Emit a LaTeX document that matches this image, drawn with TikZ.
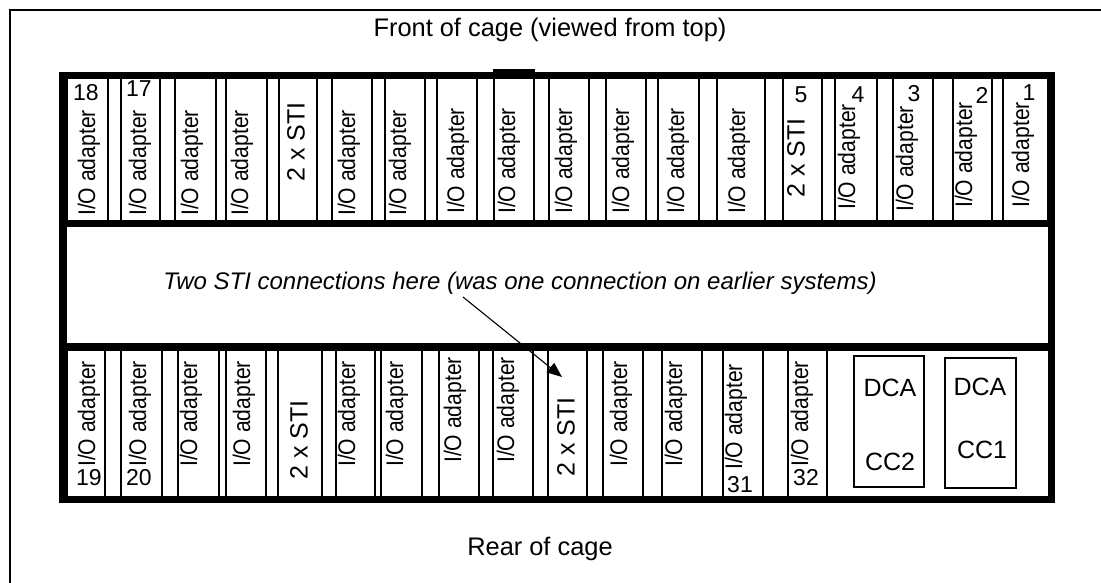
\documentclass[tikz,border=0pt]{standalone}
\usepackage{fontspec}
\setmainfont{Liberation Sans}
\usetikzlibrary{arrows.meta,calc}

% one card slot of the cage: name, left x, right x, top y, bottom y
\newcommand\cageslot[5]{%
  \node[slotbox, minimum width={#3-#2}, minimum height={#5-#4},
        anchor=north west] (#1) at (#2,#4) {};}

\begin{document}
\begin{tikzpicture}[x=1pt, y=-1pt,
  cageframe/.style={line width=7.5pt},
  slotbox/.style={draw, line width=1.8pt, inner sep=0pt, outer sep=0pt},
  cardtext/.style={rotate=90, xscale=0.88, anchor=west, inner sep=0pt,
                   font=\fontsize{24}{28}\selectfont},
  stitext/.style={rotate=90, anchor=west, inner sep=0pt,
                   font=\fontsize{25}{28}\selectfont},
  slotnum/.style={inner sep=0pt, font=\fontsize{23}{26}\selectfont},
  dcabox/.style={draw, line width=1.8pt, inner sep=0pt},
  boxtext/.style={inner sep=0pt, font=\fontsize{25}{28}\selectfont},
  caption/.style={inner sep=0pt, font=\fontsize{25.4}{29}\selectfont},
  pointer/.style={line width=1.1pt, -{Triangle[length=15pt,width=12pt]}},
]
\useasboundingbox (0,0) rectangle (1101,583);

% page frame
\draw[line width=1.4pt] (10,583) -- (10,10) -- (1101,10);

% ---- front row of slots (18 .. 1) ----
\cageslot{s18}{67}{108}{76}{223}
\cageslot{s17}{121}{160}{76}{223}
\cageslot{s16}{175}{216}{76}{223}
\cageslot{s15}{226}{267}{76}{223}
\cageslot{s14}{279}{317}{76}{223}
\cageslot{s13}{332}{372}{76}{223}
\cageslot{s12}{385}{425}{76}{223}
\cageslot{s11}{437}{477}{76}{223}
\cageslot{s10}{494}{534}{76}{223}
\cageslot{s9}{549}{589}{76}{223}
\cageslot{s8}{606}{646}{76}{223}
\cageslot{s7}{658}{699}{76}{223}
\cageslot{s6}{717}{765}{76}{223}
\cageslot{s5}{783}{822}{76}{223}
\cageslot{s4}{835}{877}{76}{223}
\cageslot{s3}{893}{933}{76}{223}
\cageslot{s2}{953}{992}{76}{223}
\cageslot{s1}{1003}{1048}{76}{223}

% ---- rear row of slots (19 .. 32) ----
\cageslot{s19}{67}{105}{347}{499}
\cageslot{s20}{121}{162}{347}{499}
\cageslot{s21}{178}{219}{347}{499}
\cageslot{s22}{226}{266}{347}{499}
\cageslot{s23}{278}{322}{347}{499}
\cageslot{s24}{336}{375}{347}{499}
\cageslot{s25}{381}{422}{347}{499}
\cageslot{s26}{439}{479}{347}{499}
\cageslot{s27}{493}{533}{347}{499}
\cageslot{s28}{548}{587}{347}{499}
\cageslot{s29}{603}{643}{347}{499}
\cageslot{s30}{662}{702}{347}{499}
\cageslot{s31}{723}{763}{347}{499}
\cageslot{s32}{788}{827}{347}{499}

% DCA boxes
\node[dcabox, minimum width=70, minimum height=131, anchor=north west] (dca2) at (853,355) {};
\node[dcabox, minimum width=71, minimum height=130, anchor=north west] (dca1) at (944,357) {};

% ---- cage outline and the two cross bars ----
\draw[cageframe] (62.75,75.75) rectangle (1051.25,499.25);
\draw[cageframe] (62.75,223.5) -- (1051.25,223.5);
\draw[cageframe] (62.75,347) -- (1051.25,347);
\fill (493,69) rectangle (535,75);

% ---- front row labels ----
\node[cardtext] (l18) at (89,216) {I/O adapter};
\node[cardtext] (l17) at (140,216) {I/O adapter};
\node[cardtext] (l16) at (192,216) {I/O adapter};
\node[cardtext] (l15) at (242,216) {I/O adapter};
\node[stitext] (l14) at (296,182) {2 x STI};
\node[cardtext] (l13) at (349,216) {I/O adapter};
\node[cardtext] (l12) at (400,216) {I/O adapter};
\node[cardtext] (l11) at (458,214) {I/O adapter};
\node[cardtext] (l10) at (509,214) {I/O adapter};
\node[cardtext] (l9) at (566,214) {I/O adapter};
\node[cardtext] (l8) at (623,214) {I/O adapter};
\node[cardtext] (l7) at (678,214) {I/O adapter};
\node[cardtext] (l6) at (739,214) {I/O adapter};
\node[stitext] (l5) at (796,198) {2 x STI};
\node[cardtext] (l4) at (849,210) {I/O adapter};
\node[cardtext] (l3) at (907,212) {I/O adapter};
\node[cardtext] (l2) at (966,208) {I/O adapter};
\node[cardtext] (l1) at (1023,208) {I/O adapter};

\node[slotnum] (n18) at (86,93) {18};
\node[slotnum] (n17) at (139,89) {17};
\node[slotnum] (n5) at (801,95) {5};
\node[slotnum] (n4) at (858,95) {4};
\node[slotnum] (n3) at (914,94) {3};
\node[slotnum] (n2) at (982,95) {2};
\node[slotnum] (n1) at (1029,93) {1};

% ---- rear row labels ----
\node[cardtext] (l19) at (89,467) {I/O adapter};
\node[cardtext] (l20) at (140,467) {I/O adapter};
\node[cardtext] (l21) at (191,467) {I/O adapter};
\node[cardtext] (l22) at (244,467) {I/O adapter};
\node[stitext] (l23) at (299,480) {2 x STI};
\node[cardtext] (l24) at (349,467) {I/O adapter};
\node[cardtext] (l25) at (397,467) {I/O adapter};
\node[cardtext] (l26) at (455,463) {I/O adapter};
\node[cardtext] (l27) at (508,463) {I/O adapter};
\node[stitext] (l28) at (566,477) {2 x STI};
\node[cardtext] (l29) at (621,467) {I/O adapter};
\node[cardtext] (l30) at (676,467) {I/O adapter};
\node[cardtext] (l31) at (736,470) {I/O adapter};
\node[cardtext] (l32) at (802,467) {I/O adapter};

\node[slotnum] (n19) at (89,478) {19};
\node[slotnum] (n20) at (139,478) {20};
\node[slotnum] (n31) at (740,485) {31};
\node[slotnum] (n32) at (806,478) {32};

\node[boxtext] (dca2a) at (890,388) {DCA};
\node[boxtext] (dca2b) at (890,462) {CC2};
\node[boxtext] (dca1a) at (980,387) {DCA};
\node[boxtext] (dca1b) at (982,450) {CC1};

% ---- captions ----
\node[caption] (front) at (550,30) {Front of cage (viewed from top)};
\node[caption] (rear) at (540,549) {Rear of cage};
\node[caption, font=\fontsize{24}{28}\selectfont\itshape] (note) at (520,283)
  {Two STI connections here (was one connection on earlier systems)};

\coordinate (tail) at (463,297);
\coordinate (tip) at (562,377);
\draw[pointer] (tail) -- (tip);
\end{tikzpicture}
\end{document}
